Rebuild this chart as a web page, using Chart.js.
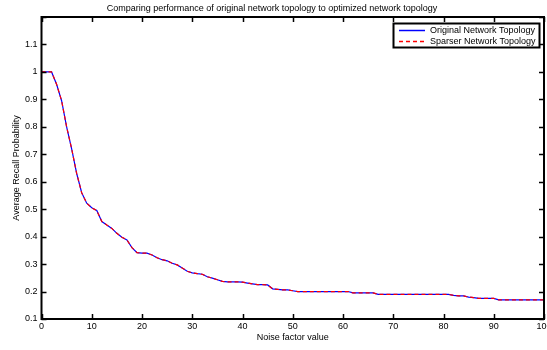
<!DOCTYPE html>
<html>
<head>
<meta charset="utf-8">
<script src="https://cdn.jsdelivr.net/npm/chart.js@4"></script>
<style>
  html, body { margin: 0; padding: 0; background: #fff; }
  #wrap { width: 547px; height: 350px; }
</style>
</head>
<body>
<div id="wrap"><canvas id="chart" width="547" height="350"></canvas></div>
<script>
// --- data ---
const noiseFactor = [0,1,2,3,4,5,6,7,8,9,10,11,12,13,14,15,16,17,18,19,20,
  21,22,23,24,25,26,27,28,29,30,31,32,33,34,35,36,37,38,39,40,
  41,42,43,44,45,46,47,48,49,50,51,52,53,54,55,56,57,58,59,60,
  61,62,63,64,65,66,67,68,69,70,71,72,73,74,75,76,77,78,79,80,
  81,82,83,84,85,86,87,88,89,90,91,92,93,94,95,96,97,98,99,100];

const originalTopology = [1,1,1,0.955,0.895,0.80,0.72,0.63,0.56,0.522,0.505,
  0.495,0.455,0.442,0.43,0.412,0.398,0.388,0.36,0.342,0.34,
  0.34,0.333,0.323,0.316,0.312,0.303,0.297,0.286,0.274,0.268,
  0.265,0.263,0.254,0.249,0.243,0.237,0.235,0.235,0.235,0.234,
  0.231,0.228,0.225,0.225,0.224,0.21,0.208,0.206,0.206,0.203,
  0.2,0.2,0.2,0.2,0.2,0.2,0.2,0.2,0.2,0.2,
  0.2,0.195,0.195,0.195,0.195,0.195,0.19,0.19,0.19,0.19,
  0.19,0.19,0.19,0.19,0.19,0.19,0.19,0.19,0.19,0.19,
  0.19,0.186,0.184,0.184,0.18,0.178,0.175,0.175,0.175,0.175,
  0.17,0.17,0.17,0.17,0.17,0.17,0.17,0.17,0.17,0.17];

const sparserTopology = [1,1,1,0.955,0.895,0.80,0.72,0.63,0.56,0.522,0.505,
  0.495,0.455,0.442,0.43,0.412,0.398,0.388,0.36,0.342,0.34,
  0.34,0.333,0.323,0.316,0.312,0.303,0.297,0.286,0.274,0.268,
  0.265,0.263,0.254,0.249,0.243,0.237,0.235,0.235,0.235,0.234,
  0.231,0.228,0.225,0.225,0.224,0.21,0.208,0.206,0.206,0.203,
  0.2,0.2,0.2,0.2,0.2,0.2,0.2,0.2,0.2,0.2,
  0.2,0.195,0.195,0.195,0.195,0.195,0.19,0.19,0.19,0.19,
  0.19,0.19,0.19,0.19,0.19,0.19,0.19,0.19,0.19,0.19,
  0.19,0.186,0.184,0.184,0.18,0.178,0.175,0.175,0.175,0.175,
  0.17,0.17,0.17,0.17,0.17,0.17,0.17,0.17,0.17,0.17];

const xTickValues = [0,10,20,30,40,50,60,70,80,90,100];
const yTickValues = [0.1,0.2,0.3,0.4,0.5,0.6,0.7,0.8,0.9,1,1.1,1.2];
const seriesNames = ['Original Network Topology', 'Sparser Network Topology'];

const FONT = "'Liberation Sans', Arial, Helvetica, sans-serif";
Chart.defaults.font.family = FONT;
Chart.defaults.font.size = 9;
Chart.defaults.color = '#000';

// matlab style box + inward ticks on all four sides
const boxPlugin = {
  id: 'boxPlugin',
  afterDatasetsDraw(chart) {
    const { ctx, chartArea: a, scales } = chart;
    ctx.save();
    ctx.strokeStyle = '#000';
    ctx.lineWidth = 1.5;
    ctx.beginPath();
    scales.x.ticks.forEach(t => {
      const px = Math.round(scales.x.getPixelForValue(t.value)) + 0.5;
      ctx.moveTo(px, a.bottom); ctx.lineTo(px, a.bottom - 5);
      ctx.moveTo(px, a.top); ctx.lineTo(px, a.top + 5);
    });
    scales.y.ticks.forEach(t => {
      const py = Math.round(scales.y.getPixelForValue(t.value)) + 0.5;
      ctx.moveTo(a.left, py); ctx.lineTo(a.left + 5, py);
      ctx.moveTo(a.right, py); ctx.lineTo(a.right - 5, py);
    });
    ctx.stroke();
    ctx.lineWidth = 2;
    ctx.strokeRect(a.left, a.top, a.right - a.left, a.bottom - a.top);
    ctx.restore();
  }
};

// legend box inside the plot, top right
const legendPlugin = {
  id: 'legendPlugin',
  afterDraw(chart) {
    const { ctx } = chart;
    const ds = chart.data.datasets;
    const x0 = 393.5, y0 = 23.5, w = 146, h = 24;
    ctx.save();
    ctx.fillStyle = '#fff';
    ctx.fillRect(x0, y0, w, h);
    ctx.strokeStyle = '#000';
    ctx.lineWidth = 2;
    ctx.strokeRect(x0, y0, w, h);
    const rows = [30.5, 41.5];
    ds.forEach((d, i) => {
      ctx.save();
      ctx.beginPath();
      ctx.strokeStyle = d.borderColor;
      ctx.lineWidth = 1.5;
      ctx.setLineDash(d.borderDash || []);
      ctx.moveTo(399, rows[i]); ctx.lineTo(425, rows[i]);
      ctx.stroke();
      ctx.restore();
      ctx.fillStyle = '#000';
      ctx.font = '9px ' + FONT;
      ctx.textBaseline = 'middle';
      ctx.textAlign = 'left';
      ctx.fillText(d.label, 430, rows[i]);
    });
    ctx.restore();
  }
};

const toPoints = (xs, ys) => xs.map((x, i) => ({ x: x, y: ys[i] }));

new Chart(document.getElementById('chart'), {
  type: 'line',
  data: {
    datasets: [
      {
        label: seriesNames[0],
        data: toPoints(noiseFactor, originalTopology),
        borderColor: '#0000ff',
        borderWidth: 1.2,
        pointRadius: 0,
        tension: 0,
        order: 1
      },
      {
        label: seriesNames[1],
        data: toPoints(noiseFactor, sparserTopology),
        borderColor: '#ff0000',
        borderWidth: 1.2,
        borderDash: [4, 3],
        pointRadius: 0,
        tension: 0,
        order: 0
      }
    ]
  },
  options: {
    responsive: false,
    animation: false,
    events: [],
    layout: { padding: { left: 0, right: 3, top: 0, bottom: 0 } },
    plugins: {
      legend: { display: false },
      tooltip: { enabled: false },
      title: {
        display: true,
        text: 'Comparing performance of original network topology to optimized network topology',
        font: { size: 9, weight: 'normal' },
        color: '#000',
        padding: { top: 3, bottom: 3.2 }
      }
    },
    scales: {
      x: {
        type: 'linear',
        min: 0,
        max: 100,
        grid: { display: false, drawTicks: false },
        border: { display: false },
        ticks: { padding: 2, maxRotation: 0, autoSkip: false },
        afterBuildTicks: s => { s.ticks = xTickValues.map(v => ({ value: v })); },
        afterFit: s => { s.height = 31; s.paddingLeft = 0; s.paddingRight = 0; },
        title: { display: true, text: 'Noise factor value', font: { size: 9 }, padding: { top: 0, bottom: 7.5 } }
      },
      y: {
        type: 'linear',
        min: 0.1,
        max: 1.2,
        grid: { display: false, drawTicks: false },
        border: { display: false },
        ticks: {
          padding: 4,
          autoSkip: false,
          callback: v => (Math.abs(v - 1.2) < 1e-6 ? '' : String(Math.round(v * 10) / 10))
        },
        afterBuildTicks: s => { s.ticks = yTickValues.map(v => ({ value: v })); },
        afterFit: s => { s.width = 41.5; s.paddingTop = 0; s.paddingBottom = 0; },
        title: { display: true, text: 'Average Recall Probability', font: { size: 9 }, padding: { top: 11, bottom: 0 } }
      }
    }
  },
  plugins: [boxPlugin, legendPlugin]
});
</script>
</body>
</html>
